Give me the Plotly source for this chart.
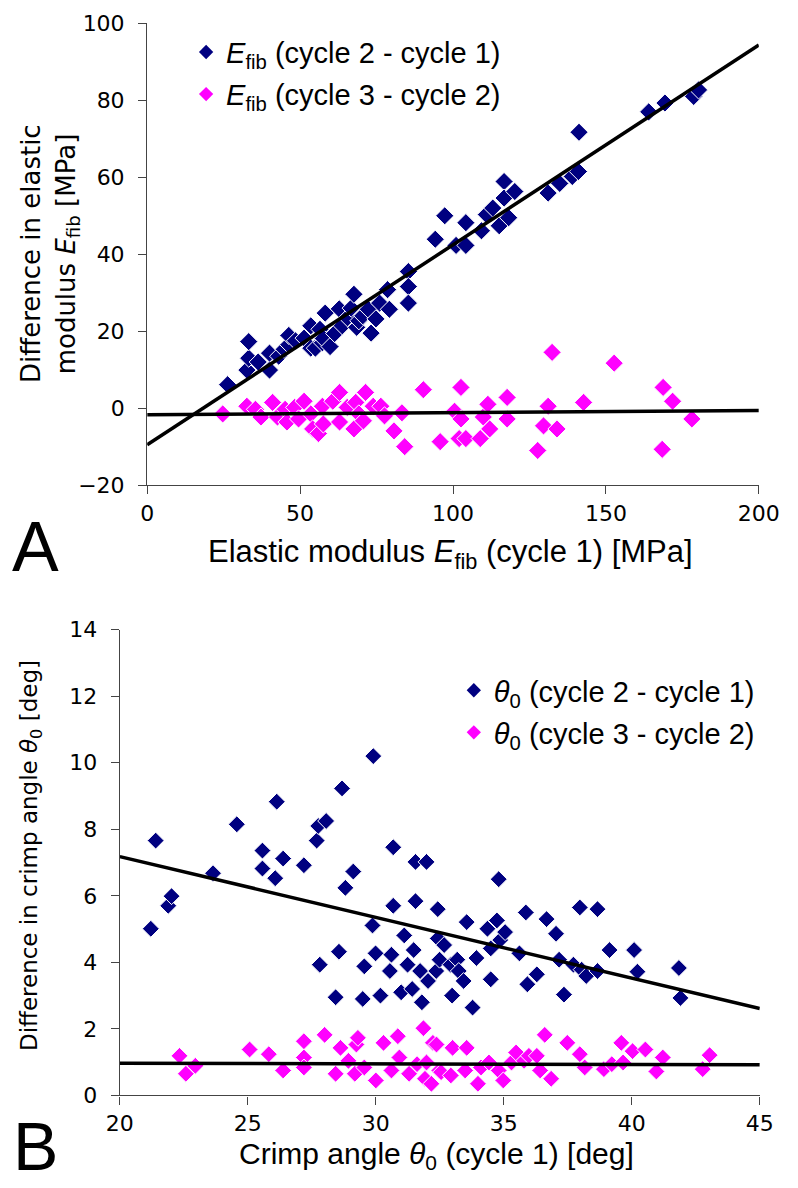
import plotly.graph_objects as go

# ---------------- Panel A data: elastic modulus ----------------
a_x1 = [26.3, 32.6, 33.2, 33.2, 36.3, 40.0, 40.0, 43.0, 44.8, 46.3, 46.3, 48.5, 51.3, 53.5, 53.5,
        55.0, 56.5, 57.3, 57.6, 58.2, 59.8, 61.3, 62.8, 63.8, 65.5, 66.7, 67.6, 68.5, 69.2, 70.5,
        72.3, 73.2, 74.8, 76.0, 78.6, 79.2, 85.4, 85.4, 85.4, 94.2, 97.3, 101.0, 104.2, 104.2, 109.3,
        110.9, 113.0, 115.1, 116.7, 116.7, 118.2, 120.2, 131.1, 134.9, 139.0, 141.0, 141.2, 164.0,
        169.3, 178.7, 180.3]
a_y1 = [6.1, 9.9, 13.0, 17.3, 12.0, 9.9, 14.3, 13.5, 15.3, 16.5, 18.9, 17.5, 18.2, 15.6, 21.4,
        15.6, 20.5, 17.0, 18.1, 24.7, 16.0, 19.4, 25.8, 21.4, 23.5, 26.0, 29.6, 21.0, 22.7, 24.0,
        25.7, 19.5, 23.2, 27.3, 30.8, 25.7, 35.5, 31.6, 27.3, 43.9, 50.0, 42.3, 42.3, 48.2, 46.1,
        50.3, 52.0, 47.4, 58.9, 54.6, 49.5, 56.3, 55.9, 58.4, 60.2, 61.5, 71.7, 77.0,
        79.3, 81.0, 82.7]
a_x2 = [24.7, 32.6, 35.4, 37.2, 41.0, 42.6, 45.1, 45.7, 48.2, 49.5, 51.3, 53.5, 54.1, 56.0, 57.3,
        57.6, 60.7, 62.9, 62.9, 65.4, 67.6, 68.2, 69.2, 70.7, 71.4, 73.9, 76.4, 77.6, 80.7, 83.3,
        84.2, 90.3, 95.8, 100.5, 102.6, 102.6, 102.0, 104.2, 108.9, 109.9, 111.4, 112.0, 117.7, 117.7,
        127.7, 129.6, 131.1, 132.4, 134.0, 142.7, 152.7, 168.4, 168.7, 171.8, 178.1]
a_y2 = [-1.5, 0.5, -0.3, -2.3, 1.5, -2.3, -0.3, -3.6, 0.2, -2.8, 1.8, -1.5, -5.4, -6.6, 0.5,
        -4.1, 1.8, 4.1, -3.6, 0.2, -5.4, 1.5, -1.5, -3.3, 4.1, 0.5, 0.5, -2.0, -5.9, -1.2,
        -10.0, 4.8, -8.7, -0.8, 5.4, -2.8, -7.9, -7.9, -7.9, -2.3, 1.0, -5.4, 2.8, -2.8,
        -11.0, -4.6, 0.5, 14.5, -5.4, 1.5, 11.7, -10.7, 5.4, 1.8, -2.8]
a_fit1_x = [0, 200]
a_fit1_y = [-9.5, 94.4]
a_fit2_x = [0, 200]
a_fit2_y = [-1.7, -0.6]
a_xticks = [0, 50, 100, 150, 200]
a_yticks = [-20, 0, 20, 40, 60, 80, 100]

# ---------------- Panel B data: crimp angle ----------------
b_x1 = [21.21, 21.40, 21.89, 22.02, 23.64, 24.57, 25.57, 25.57, 26.07, 26.13, 26.38, 27.19, 27.69,
        27.75, 27.81, 28.06, 28.43, 28.56, 28.68, 28.81, 29.12, 29.49, 29.55, 29.87, 29.90, 29.99,
        30.18, 30.55, 30.61, 30.68, 30.68, 30.99, 31.11, 31.24, 31.42, 31.48, 31.55, 31.55, 31.73,
        31.80, 31.98, 32.04, 32.36, 32.42, 32.42, 32.49, 32.67, 32.92, 32.98, 33.18, 33.24, 33.43,
        33.55, 33.78, 33.93, 34.36, 34.49, 34.49, 34.73, 34.80, 34.86, 35.05, 35.61, 35.86, 35.92,
        36.29, 36.67, 37.04, 37.16, 37.35, 37.72, 37.97, 38.04, 38.22, 38.66, 38.66, 39.13, 40.09,
        40.22, 41.84, 41.90]
b_y1 = [5.01, 7.66, 5.70, 5.99, 6.68, 8.15, 7.36, 6.82, 6.53, 8.83, 7.12, 6.92, 7.66,
        8.10, 3.93, 8.25, 2.95, 4.32, 9.23, 6.24, 6.73, 2.90, 3.88, 5.11, 10.2, 4.27,
        3.00, 3.74, 4.23, 7.46, 5.70, 3.10, 4.81, 3.93, 3.20, 4.37, 7.02, 5.84, 3.74,
        2.80, 7.02, 3.44, 3.74, 5.60, 4.72, 4.08, 4.52, 3.93, 3.00, 4.08, 3.74, 3.44,
        5.21, 2.64, 4.13, 5.01, 4.42, 3.49, 5.26, 6.50, 4.67, 4.91, 4.27, 5.50, 3.34,
        3.64, 5.30, 4.86, 4.08, 3.03, 3.93, 5.65, 3.78, 3.59, 5.60, 3.74, 4.37, 4.37,
        3.72, 3.83, 2.93]
b_x2 = [22.33, 22.58, 22.95, 25.07, 25.82, 26.38, 27.19, 27.19, 27.19, 28.00, 28.43, 28.62, 28.93,
        29.18, 29.24, 29.30, 29.55, 30.00, 30.30, 30.61, 30.86, 30.92, 31.30, 31.61, 31.86, 31.92,
        31.98, 32.17, 32.23, 32.37, 32.48, 32.55, 32.93, 32.98, 33.00, 33.49, 33.55, 33.99, 34.11,
        34.42, 34.80, 34.98, 35.30, 35.48, 35.79, 35.98, 36.29, 36.42, 36.60, 36.85, 37.48, 37.97,
        38.16, 38.91, 39.22, 39.59, 39.66, 40.03, 40.53, 40.96, 41.21, 42.77, 43.04]
b_y2 = [1.19, 0.65, 0.89, 1.38, 1.24, 0.75, 1.63, 1.14, 0.84, 1.82, 0.65, 1.43, 1.04,
        0.65, 1.53, 1.73, 0.84, 0.45, 1.58, 0.75, 1.78, 1.14, 0.65, 0.94, 2.02, 0.50,
        0.99, 0.35, 1.58, 1.53, 0.75, 0.70, 0.60, 1.43, 1.43, 0.75, 1.43, 0.35, 0.84,
        0.99, 0.75, 0.45, 0.99, 1.29, 1.04, 1.19, 1.19, 0.75, 1.82, 0.50, 1.58, 1.24,
        0.84, 0.79, 0.94, 1.58, 0.99, 1.33, 1.38, 0.72, 1.14, 0.79, 1.21]
b_fit1_x = [20, 45]
b_fit1_y = [7.18, 2.61]
b_fit2_x = [20, 45]
b_fit2_y = [0.97, 0.92]
b_xticks = [20, 25, 30, 35, 40, 45]
b_yticks = [0, 2, 4, 6, 8, 10, 12, 14]

a_names = ["<i>E</i><sub>fib</sub> (cycle 2 - cycle 1)", "<i>E</i><sub>fib</sub> (cycle 3 - cycle 2)"]
b_names = ["<i>θ</i><sub>0</sub> (cycle 2 - cycle 1)", "<i>θ</i><sub>0</sub> (cycle 3 - cycle 2)"]

W, H = 798, 1188
NAVY = "#000080"
MAG = "#ff00ff"


def fx(p):
    return p / W


def fy(p):
    return 1 - p / H


fig = go.Figure()


def markers(x, y, color, size, xa, ya):
    fig.add_trace(go.Scatter(x=x, y=y, mode="markers", xaxis=xa, yaxis=ya, showlegend=False,
                             hoverinfo="skip",
                             marker=dict(symbol="diamond", size=size, color=color,
                                         line=dict(color="white", width=1))))


def fitline(x, y, xa, ya):
    fig.add_trace(go.Scatter(x=x, y=y, mode="lines", xaxis=xa, yaxis=ya, showlegend=False,
                             hoverinfo="skip", line=dict(color="black", width=3.5)))


def legend_entry(name, color, legend):
    fig.add_trace(go.Scatter(x=[None], y=[None], mode="markers", name=name, legend=legend,
                             xaxis="x", yaxis="y",
                             marker=dict(symbol="diamond", size=11, color=color)))


markers(a_x1, a_y1, NAVY, 14, "x", "y")
markers(a_x2, a_y2, MAG, 14, "x", "y")
fitline(a_fit1_x, a_fit1_y, "x", "y")
fitline(a_fit2_x, a_fit2_y, "x", "y")

markers(b_x1, b_y1, NAVY, 13, "x2", "y2")
markers(b_x2, b_y2, MAG, 13, "x2", "y2")
fitline(b_fit1_x, b_fit1_y, "x2", "y2")
fitline(b_fit2_x, b_fit2_y, "x2", "y2")

legend_entry(a_names[0], NAVY, "legend")
legend_entry(a_names[1], MAG, "legend3")
legend_entry(b_names[0], NAVY, "legend2")
legend_entry(b_names[1], MAG, "legend4")

axis_common = dict(showgrid=False, zeroline=False, showline=True, linecolor="#444444", linewidth=1.3,
                   ticks="outside", ticklen=8, tickwidth=1.3, tickcolor="#444444",
                   tickfont=dict(family="DejaVu Sans", size=22, color="black"), fixedrange=True)

legend_font = dict(family="Liberation Sans, Arial", size=29, color="black")
sans = "Liberation Sans, Arial"


def leg(xp, yp):
    return dict(x=fx(xp), y=fy(yp), xanchor="left", yanchor="middle", bgcolor="rgba(0,0,0,0)",
                font=legend_font, itemsizing="trace", borderwidth=0)


fig.update_layout(
    width=W, height=H, autosize=False,
    margin=dict(l=0, r=0, t=0, b=0, pad=0),
    paper_bgcolor="white", plot_bgcolor="white",
    xaxis=dict(domain=[fx(139.3), fx(779)], range=[0, 200], tickvals=a_xticks, anchor="y", **axis_common),
    yaxis=dict(domain=[fy(483.3), fy(11.6)], range=[-20, 100], tickvals=a_yticks, anchor="x",
               ticklabelstandoff=9, **axis_common),
    xaxis2=dict(domain=[fx(110.7), fx(780)], range=[20, 45], tickvals=b_xticks, anchor="y2", **axis_common),
    yaxis2=dict(domain=[fy(1106.7), fy(631)], range=[0, 14], tickvals=b_yticks, anchor="x2",
                ticklabelstandoff=9, **axis_common),
    legend=leg(180, 41),
    legend3=leg(180, 84),
    legend2=leg(460, 693),
    legend4=leg(460, 736),
    annotations=[
        dict(text="Difference in elastic", textangle=-90,
             x=fx(18), y=fy(247), xref="paper", yref="paper", showarrow=False,
             xanchor="center", yanchor="middle", font=dict(family="DejaVu Sans", size=26, color="black")),
        dict(text="modulus <i>E</i><sub>fib</sub> [MPa]", textangle=-90,
             x=fx(56), y=fy(247), xref="paper", yref="paper", showarrow=False,
             xanchor="center", yanchor="middle", font=dict(family="DejaVu Sans", size=26, color="black")),
        dict(text="Elastic modulus <i>E</i><sub>fib</sub> (cycle 1) [MPa]",
             x=fx(456), y=fy(554), xref="paper", yref="paper", showarrow=False,
             xanchor="center", yanchor="middle", font=dict(family=sans, size=31, color="black")),
        dict(text="Difference in crimp angle <i>θ</i><sub>0</sub> [deg]", textangle=-90,
             x=fx(18), y=fy(862), xref="paper", yref="paper", showarrow=False,
             xanchor="center", yanchor="middle", font=dict(family="DejaVu Sans", size=23, color="black")),
        dict(text="Crimp angle <i>θ</i><sub>0</sub> (cycle 1) [deg]",
             x=fx(442), y=fy(1168), xref="paper", yref="paper", showarrow=False,
             xanchor="center", yanchor="middle", font=dict(family=sans, size=30, color="black")),
        dict(text="A", x=fx(23), y=fy(546), xref="paper", yref="paper", showarrow=False,
             xanchor="center", yanchor="middle", font=dict(family=sans, size=70, color="black")),
        dict(text="B", x=fx(23), y=fy(1158), xref="paper", yref="paper", showarrow=False,
             xanchor="center", yanchor="middle", font=dict(family=sans, size=68, color="black")),
    ],
)

fig.write_html("out.html", config={"displayModeBar": False},
               post_script="document.body.style.margin='0';document.body.style.overflow='hidden';")
